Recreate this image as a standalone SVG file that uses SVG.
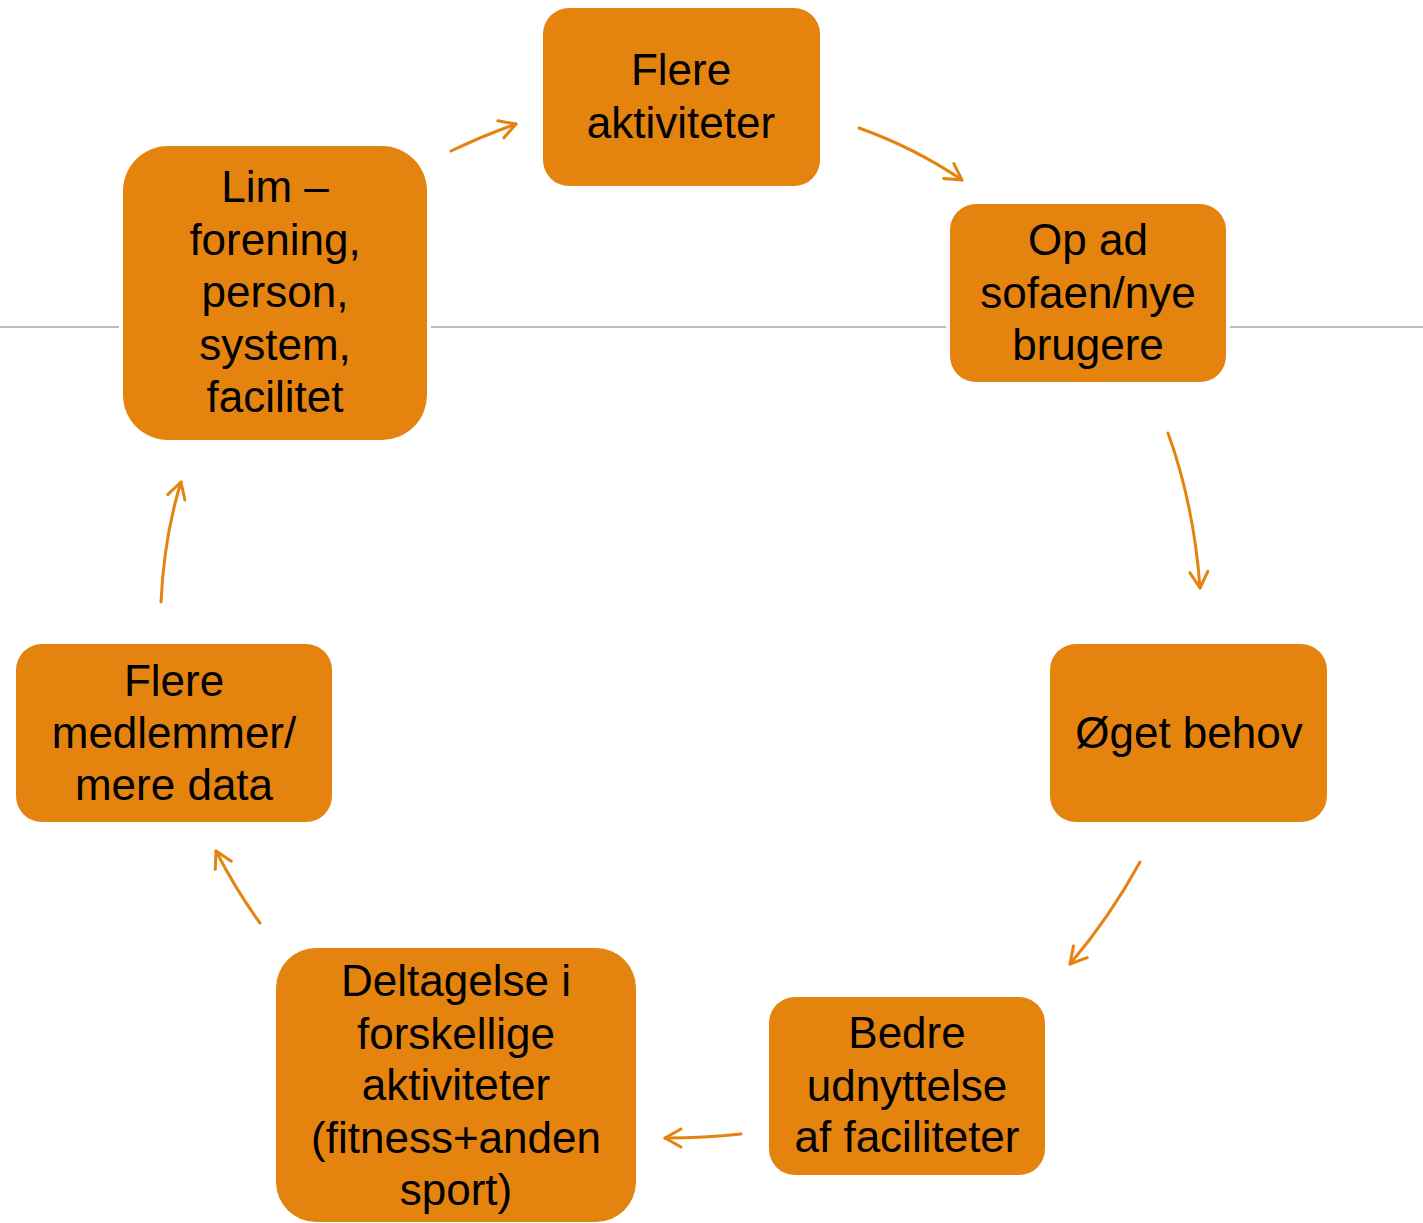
<svg xmlns="http://www.w3.org/2000/svg" width="1423" height="1223" viewBox="0 0 1423 1223">
<style>
.node rect{fill:#E5830F;}
.node text{font-family:"Liberation Sans",Arial,sans-serif;font-size:44px;fill:#000;text-anchor:middle;}
.conn path{fill:none;stroke:#E5830F;stroke-width:3;stroke-linecap:round;}
.rule{stroke:#A6A6A6;stroke-width:1.5;}
</style>
<defs>
<marker id="ah" viewBox="0 0 24 24" refX="21" refY="12" markerWidth="24" markerHeight="24" markerUnits="userSpaceOnUse" orient="auto">
<path d="M5,3 L21,12 L5,21" fill="none" stroke="#E5830F" stroke-width="3" stroke-linecap="round" stroke-linejoin="round"/>
</marker>
</defs>
<g id="rule">
<line class="rule" x1="0" y1="327" x2="119" y2="327"/>
<line class="rule" x1="431" y1="327" x2="946" y2="327"/>
<line class="rule" x1="1230" y1="327" x2="1423" y2="327"/>
</g>
<g id="n1" class="node"><rect x="543" y="8" width="277" height="178" rx="26"/>
<text x="681" y="85">Flere</text><text x="681" y="138">aktiviteter</text></g>
<g id="n2" class="node"><rect x="950" y="204" width="276" height="178" rx="26"/>
<text x="1088" y="255">Op ad</text><text x="1088" y="308">sofaen/nye</text><text x="1088" y="360">brugere</text></g>
<g id="n3" class="node"><rect x="1050" y="644" width="277" height="178" rx="26"/>
<text x="1189" y="748">Øget behov</text></g>
<g id="n4" class="node"><rect x="769" y="997" width="276" height="178" rx="26"/>
<text x="907" y="1048">Bedre</text><text x="907" y="1101">udnyttelse</text><text x="907" y="1152">af faciliteter</text></g>
<g id="n5" class="node"><rect x="276" y="948" width="360" height="274" rx="40"/>
<text x="456" y="996">Deltagelse i</text><text x="456" y="1049">forskellige</text><text x="456" y="1100">aktiviteter</text><text x="456" y="1153">(fitness+anden</text><text x="456" y="1205">sport)</text></g>
<g id="n6" class="node"><rect x="16" y="644" width="316" height="178" rx="26"/>
<text x="174" y="696">Flere</text><text x="174" y="748">medlemmer/</text><text x="174" y="800">mere data</text></g>
<g id="n7" class="node"><rect x="123" y="146" width="304" height="294" rx="45"/>
<text x="275" y="202">Lim –</text><text x="275" y="255">forening,</text><text x="275" y="307">person,</text><text x="275" y="360">system,</text><text x="275" y="412">facilitet</text></g>
<g id="connectors" class="conn">
<path d="M451,151 Q482,136 516,124" marker-end="url(#ah)"/>
<path d="M859,128 Q915,148 962,180" marker-end="url(#ah)"/>
<path d="M1168,433 Q1194,505 1200,588" marker-end="url(#ah)"/>
<path d="M1140,862 Q1110,917 1070,964" marker-end="url(#ah)"/>
<path d="M741,1134 Q705,1138 665,1138" marker-end="url(#ah)"/>
<path d="M260,923 Q236,890 216,851" marker-end="url(#ah)"/>
<path d="M161,602 Q164,537 181,482" marker-end="url(#ah)"/>
</g>
</svg>
